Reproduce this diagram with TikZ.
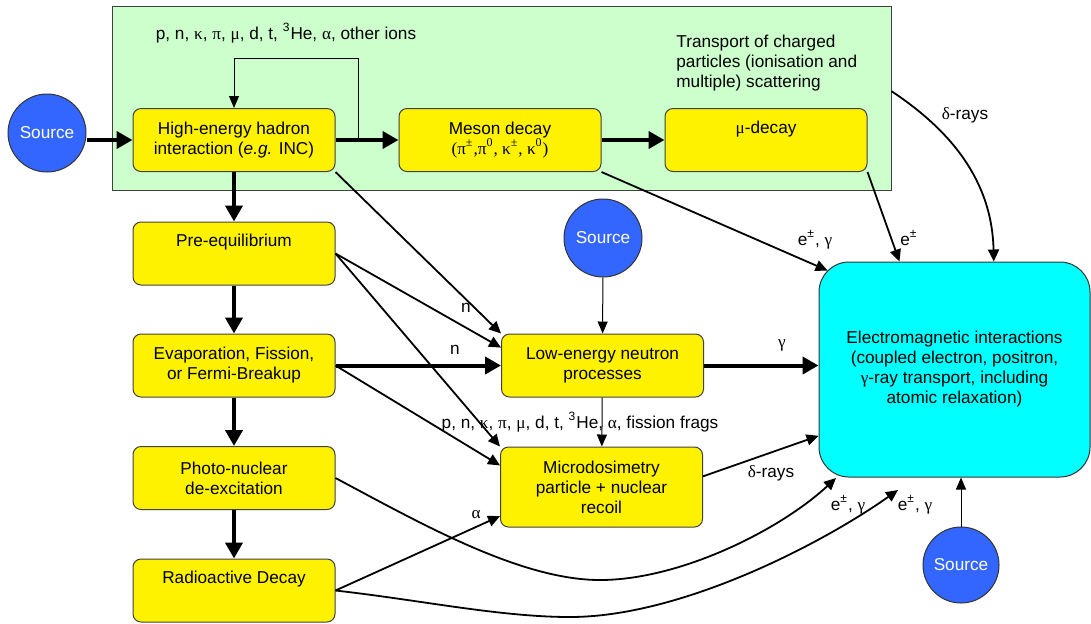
\documentclass[tikz,border=0pt]{standalone}
\usepackage{fontspec}
\setmainfont{Liberation Sans}
\newfontfamily\grkfont{Liberation Serif}
\newcommand{\grk}[1]{{\grkfont #1}}
\usepackage{tikz}
\usetikzlibrary{positioning,calc,arrows.meta}
\definecolor{zonegreen}{HTML}{CCFFCC}
\definecolor{srcblue}{HTML}{3366FF}
\definecolor{emcyan}{HTML}{00FFFF}
\tikzset{
  hbox/.style={draw=black!75, line width=0.5pt, fill=yellow, rounded corners=4pt, align=center,
    inner sep=0pt, minimum width=101pt, minimum height=31.5pt, font=\fontsize{8.6}{10}\selectfont},
  srcnode/.style={circle, draw=black!80, line width=0.5pt, fill=srcblue, text=white,
    minimum size=39pt, inner sep=0pt, font=\fontsize{8.6}{10}\selectfont},
  emnode/.style={draw=black!80, line width=0.5pt, fill=emcyan, rounded corners=15pt, align=center,
    minimum width=135.5pt, minimum height=107.5pt, inner sep=0pt, font=\fontsize{8.6}{10}\selectfont},
  zone/.style={draw=black!75, line width=0.5pt, fill=zonegreen, minimum width=389.5pt,
    minimum height=92pt, inner sep=0pt},
  thickarr/.style={line width=2pt, -{Triangle[length=8pt,width=8.5pt]}},
  medarr/.style={line width=0.9pt, -{Triangle[length=6pt,width=5.5pt]}},
  thinarr/.style={line width=0.5pt, -{Triangle[length=6pt,width=5pt]}},
  lbl/.style={font=\fontsize{8.6}{10}\selectfont, inner sep=1pt}
}
\begin{document}
\begin{tikzpicture}[x=0.5pt,y=-0.5pt]
\useasboundingbox (0,0) rectangle (1091,623);
% charged particle transport region
\node[zone] (zone) at (501.5,98) {};
\node[lbl] (ions) at (286,33) {p, n, \grk{κ}, \grk{π}, \grk{μ}, d, t, \textsuperscript{3}He, \grk{α}, other ions};
\node[lbl, align=left, anchor=west] (transp) at (674,63) {Transport of charged\\particles (ionisation and\\multiple) scattering};
% process boxes
\node[srcnode] (src1) at (47,133) {Source};
\node[hbox] (he) at (234,140) {High-energy hadron\\interaction (\textit{e.g.} INC)};
\node[hbox] (meson) at (500,140) {Meson decay\\\grk{(π\textsuperscript{±},π\textsuperscript{0}, κ\textsuperscript{±}, κ\textsuperscript{0})}};
\node[hbox] (mudec) at (766,140) {\grk{μ}-decay\\\strut};
\node[hbox] (preeq) at (234,253.5) {Pre-equilibrium\\\strut};
\node[hbox] (evap) at (234,365.5) {Evaporation, Fission,\\or Fermi-Breakup};
\node[hbox] (photo) at (234,478) {Photo-nuclear\\de-excitation};
\node[hbox] (radio) at (234,590.5) {Radioactive Decay\\\strut};
\node[hbox] (len) at (602.5,365.5) {Low-energy neutron\\processes};
\node[hbox, minimum height=40pt] (micro) at (601.5,487) {Microdosimetry\\particle + nuclear\\recoil};
\node[srcnode] (src2) at (603,238) {Source};
\node[emnode] (em) at (954.5,369.5) {Electromagnetic interactions\\(coupled electron, positron,\\\grk{γ}-ray transport, including\\atomic relaxation)};
\node[srcnode, minimum size=38pt] (src3) at (961,565) {Source};
% free ends
\coordinate (fb) at (358,140);
\coordinate (fbtop) at (358,58);
\coordinate (emnw) at ($(em.north west)+(9,9)$);
\coordinate (emsw) at (836,478);
\coordinate (embot) at (898,490);
% main chain
\draw[thickarr] (src1.east |- he.west) -- (he.west);
\draw[thickarr] (he) -- (meson);
\draw[thinarr] (fb) -- (fbtop) -| (he.north);
\draw[thickarr] (meson) -- (mudec);
\draw[thickarr] (he) -- (preeq);
\draw[thickarr] (preeq) -- (evap);
\draw[thickarr] (evap) -- (photo);
\draw[thickarr] (photo) -- (radio);
% neutrons and fragments
\draw[medarr] (he.south east) -- (len.north west);
\draw[medarr] (preeq.east) -- (len.170);
\draw[medarr] (preeq.east) -- (micro.north west);
\draw[thickarr] (evap) -- (len);
\draw[medarr] (evap.east) -- (micro.168);
\draw[thinarr] (src2) -- (len);
\draw[thinarr] (len) -- (micro);
\draw[medarr] (radio.east) -- (micro.196.5);
% into the electromagnetic box
\draw[thickarr] (len.east) -- (len.east -| em.west);
\draw[medarr] (micro.6) -- (em.206);
\draw[medarr] (meson.south east) -- (emnw);
\draw[medarr] (mudec.south east) -- (em.117.5);
\draw[medarr] (zone.1.5) .. controls (950,130) and (992,180) .. (em.70.5);
\draw[medarr] (photo.east) .. controls (420,523) and (520,580) .. (600,580)
  .. controls (680,580) and (780,530) .. (emsw);
\draw[medarr] (radio.east) .. controls (420,600) and (500,617) .. (570,617)
  .. controls (680,617) and (820,545) .. (embot);
\draw[thinarr] (src3) -- (src3 |- em.south);
% labels
\node[lbl] (nA) at (466,308) {n};
\node[lbl] (nB) at (455,350) {n};
\node[lbl] (frags) at (580,422) {p, n, \grk{κ}, \grk{π}, \grk{μ}, d, t, \textsuperscript{3}He, \grk{α}, fission frags};
\node[lbl] (gam) at (782,345) {\grk{γ}};
\node[lbl] (dlow) at (771,473) {\grk{δ}-rays};
\node[lbl] (alph) at (476,515) {\grk{α}};
\node[lbl] (egA) at (815,240) {e\textsuperscript{±}, \grk{γ}};
\node[lbl] (eB) at (909,238) {e\textsuperscript{±}};
\node[lbl] (dtop) at (965,115) {\grk{δ}-rays};
\node[lbl] (egC) at (848,505) {e\textsuperscript{±}, \grk{γ}};
\node[lbl] (egD) at (915,505) {e\textsuperscript{±}, \grk{γ}};
\end{tikzpicture}
\end{document}
